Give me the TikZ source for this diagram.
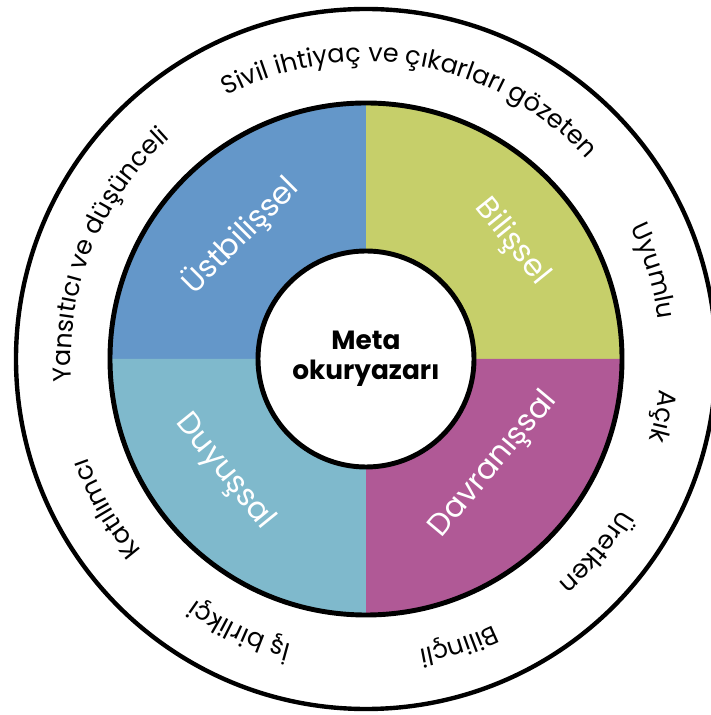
\documentclass[tikz,border=0pt]{standalone}
\usepackage{fontspec}
\setmainfont{Poppins}
\usepackage{tikz}
\usetikzlibrary{decorations.text}
\usepackage{xcolor}

\definecolor{metaBlue}{HTML}{6497C9}
\definecolor{metaGreen}{HTML}{C6CF6A}
\definecolor{metaSky}{HTML}{7FB9CC}
\definecolor{metaPlum}{HTML}{B05996}

\newcommand{\rimfont}{\fontsize{14.5}{16}\selectfont}

\begin{document}
\begin{tikzpicture}[
    coreNode/.style={circle, fill=white, draw=black, line width=2.8pt, minimum size=4.32cm, inner sep=0pt, font=\fontsize{15}{17}\selectfont\bfseries, align=center},
    wedgeLabel/.style={text=white, font=\fontsize{17.5}{18}\selectfont, inner sep=0pt},
    ringEdge/.style={draw=black, line width=2.8pt},
    rimEdge/.style={draw=black, line width=2.5pt},
    rimText/.style={decoration={text along path, text align=center, text={|\rimfont|#1}}, decorate}
]
    \useasboundingbox (-7.32,-7.12) rectangle (6.88,7.18);
    \fill[white] (-7.32,-7.12) rectangle (6.88,7.18);

    % Outer Ring
    \draw[rimEdge] (0,0) circle (7.0cm);

    % Quadrant Wedges
    \fill[metaBlue]  (0,0) -- (90:5.12)  arc[start angle=90,  end angle=180, radius=5.12] -- cycle;
    \fill[metaGreen] (0,0) -- (0:5.12)   arc[start angle=0,   end angle=90,  radius=5.12] -- cycle;
    \fill[metaSky]   (0,0) -- (180:5.12) arc[start angle=180, end angle=270, radius=5.12] -- cycle;
    \fill[metaPlum]  (0,0) -- (270:5.12) arc[start angle=270, end angle=360, radius=5.12] -- cycle;
    \draw[ringEdge] (0,0) circle (5.12cm);

    % Core
    \node[coreNode] (core) at (0,0) {Meta\\okuryazarı};

    % Wedge Labels
    \node[wedgeLabel, rotate=45]  (ust) at (135.5:3.52) {Üstbilişsel};
    \node[wedgeLabel, rotate=-51] (bil) at (38.7:3.74)  {Bilişsel};
    \node[wedgeLabel, rotate=50]  (dav) at (-39.6:3.32) {Davranışsal};
    \node[wedgeLabel, rotate=-51] (duy) at (218.7:3.62) {Duyuşsal};

    % Outer Traits (clockwise along the ring)
    \path[rimText={Sivil ihtiyaç ve çıkarları gözeten}] (140:5.95) arc[start angle=140, end angle=20, radius=5.95];
    \path[rimText={Uyumlu}]     (47:5.9)   arc[start angle=47,   end angle=-13,  radius=5.9];
    \path[rimText={Açık}]       (19:5.9)   arc[start angle=19,   end angle=-41,  radius=5.9];
    \path[rimText={Üretken}]    (-10:5.9)  arc[start angle=-10,  end angle=-70,  radius=5.9];
    \path[rimText={Bilinçli}]   (-42:5.9)  arc[start angle=-42,  end angle=-102, radius=5.9];
    \path[rimText={İş birlikçi}] (-85:5.9) arc[start angle=-85,  end angle=-145, radius=5.9];
    \path[rimText={Katılımcı}]  (-120:5.9) arc[start angle=-120, end angle=-180, radius=5.9];
    \path[rimText={Yansıtıcı ve düşünceli}] (208:5.9) arc[start angle=208, end angle=108, radius=5.9];
\end{tikzpicture}
\end{document}
